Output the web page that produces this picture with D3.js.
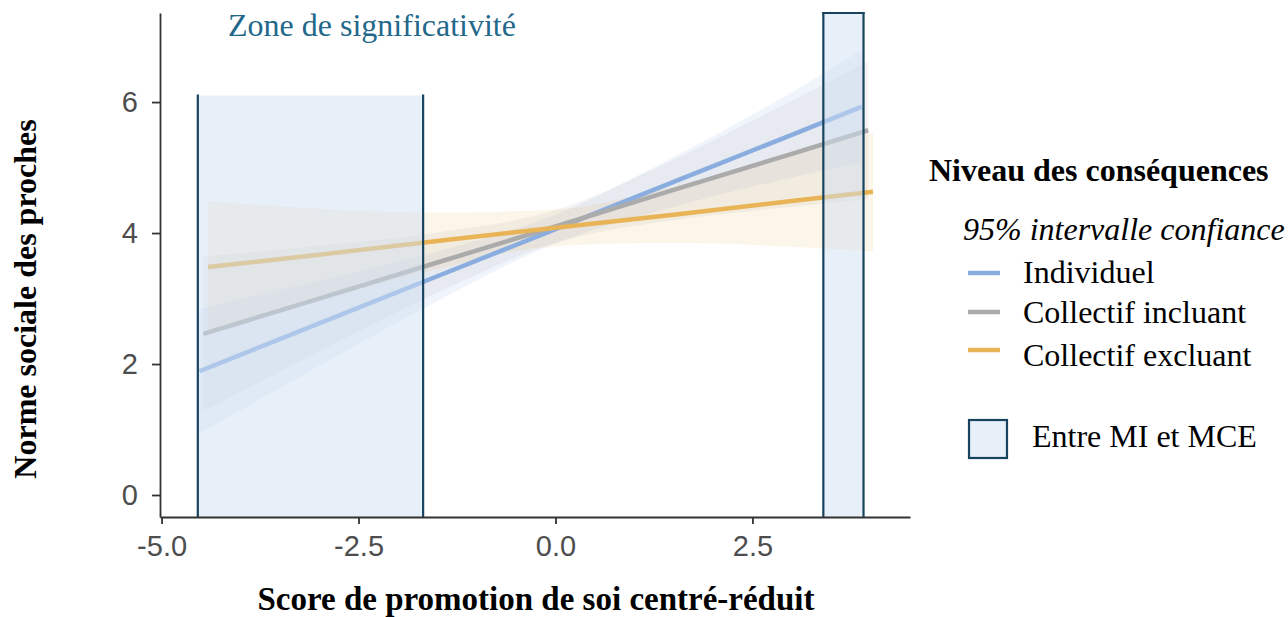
<!DOCTYPE html>
<html>
<head>
<meta charset="utf-8">
<script src="https://cdn.jsdelivr.net/npm/d3@7"></script>
<style>
  html, body { margin: 0; padding: 0; background: #fff; }
  svg { display: block; }
</style>
</head>
<body>
<svg id="chart" width="1288" height="617"></svg>
<script>
// ---------- data ----------
const seriesNames = ["Individuel", "Collectif incluant", "Collectif excluant"];
const seriesColors = ["#8aade0", "#ababab", "#e9b455"];

// fitted line + 95% CI: [x, estimate, lower, upper]
const individuel = [
  [-4.52, 1.89, 0.94, 2.84],
  [-3.0, 2.62, 1.97, 3.27],
  [-1.5, 3.34, 2.96, 3.72],
  [0.0, 4.06, 3.84, 4.28],
  [1.5, 4.78, 4.40, 5.16],
  [3.0, 5.50, 4.85, 6.15],
  [3.89, 5.93, 5.08, 6.80]
];
const collectifIncluant = [
  [-4.47, 2.46, 1.28, 3.64],
  [-3.0, 3.00, 2.19, 3.81],
  [-1.5, 3.55, 3.09, 4.01],
  [0.0, 4.10, 3.85, 4.35],
  [1.5, 4.66, 4.20, 5.12],
  [3.0, 5.21, 4.40, 6.02],
  [3.97, 5.57, 4.52, 6.62]
];
const collectifExcluant = [
  [-4.41, 3.48, 2.47, 4.49],
  [-3.0, 3.67, 2.97, 4.37],
  [-1.5, 3.88, 3.45, 4.31],
  [0.0, 4.08, 3.80, 4.36],
  [1.5, 4.28, 3.85, 4.71],
  [3.0, 4.49, 3.79, 5.19],
  [4.03, 4.63, 3.72, 5.54]
];

// significance zones: [xmin, xmax, ymax]
const zones = [
  [-4.54, -1.68, 6.1],
  [3.40, 3.91, 7.36]
];

const xTicks = [-5.0, -2.5, 0.0, 2.5];
const yTicks = [0, 2, 4, 6];

const xTitle = "Score de promotion de soi centré-réduit";
const yTitle = "Norme sociale des proches";
const zoneLabel = "Zone de significativité";
const legendTitle = "Niveau des conséquences";
const legendSub = "95% intervalle confiance";
const zoneLegend = "Entre MI et MCE";

// ---------- layout ----------
const svg = d3.select("#chart");
const mLeft = 160, mRight = 910, mTop = 13, mBottom = 517;

const x = d3.scaleLinear().domain([-5.02, 4.5]).range([mLeft, mRight]);
const y = d3.scaleLinear().domain([-0.336, 7.36]).range([mBottom, mTop]);

const serif = "'Liberation Serif', 'Times New Roman', serif";
const sans = "'Liberation Sans', Arial, sans-serif";

const allSeries = [individuel, collectifIncluant, collectifExcluant];

// ribbons
const area = d3.area()
  .x(d => x(d[0])).y0(d => y(d[2])).y1(d => y(d[3]))
  .curve(d3.curveMonotoneX);
const g = svg.append("g");
allSeries.forEach((s, i) => {
  g.append("path").datum(s)
    .attr("d", area)
    .attr("fill", seriesColors[i])
    .attr("fill-opacity", 0.13);
});

// lines
const line = d3.line().x(d => x(d[0])).y(d => y(d[1]));
allSeries.forEach((s, i) => {
  g.append("path").datum(s)
    .attr("d", line)
    .attr("fill", "none")
    .attr("stroke", seriesColors[i])
    .attr("stroke-width", 4.5);
});

// zones: translucent fill, then outline edges
const yMinDom = y.domain()[0], yMaxDom = y.domain()[1];
zones.forEach(z => {
  const x0 = x(z[0]), x1 = x(z[1]), yt = y(z[2]), yb = y(yMinDom);
  g.append("rect")
    .attr("x", x0).attr("y", yt)
    .attr("width", x1 - x0).attr("height", yb - yt)
    .attr("fill", "#cfdff2")
    .attr("fill-opacity", 0.5);
  const edges = [[x0, yt, x0, yb], [x1, yt, x1, yb]];
  if (z[2] >= yMaxDom - 0.01) edges.push([x0, yt, x1, yt]);
  edges.forEach(e => {
    g.append("line")
      .attr("x1", e[0]).attr("y1", e[1]).attr("x2", e[2]).attr("y2", e[3])
      .attr("stroke", "#17435f").attr("stroke-width", 2.2)
      .attr("stroke-linecap", "square");
  });
});

// zone label
svg.append("text")
  .attr("x", 372).attr("y", 36)
  .attr("text-anchor", "middle")
  .attr("font-family", serif).attr("font-size", 32)
  .attr("fill", "#22688a")
  .text(zoneLabel);

// axes
const xAxis = svg.append("g")
  .attr("transform", `translate(0,${mBottom})`)
  .call(d3.axisBottom(x).tickValues(xTicks).tickFormat(d3.format(".1f")).tickSize(7).tickSizeOuter(0).tickPadding(4));
const yAxis = svg.append("g")
  .attr("transform", `translate(${mLeft},0)`)
  .call(d3.axisLeft(y).tickValues(yTicks).tickFormat(d3.format("d")).tickSize(8).tickSizeOuter(0).tickPadding(14));

[xAxis, yAxis].forEach(a => {
  a.select(".domain").attr("stroke", "#333").attr("stroke-width", 1.8);
  a.selectAll(".tick line").attr("stroke", "#333").attr("stroke-width", 1.8);
  a.selectAll(".tick text")
    .attr("font-family", sans).attr("font-size", 29).attr("fill", "#4d4d4d");
});
xAxis.selectAll(".tick text").attr("dy", "0.95em");
xAxis.selectAll(".tick text").text(d => d3.format(".1f")(d).replace("−", "-"));

// axis titles
svg.append("text")
  .attr("x", 536).attr("y", 610)
  .attr("text-anchor", "middle")
  .attr("font-family", serif).attr("font-size", 33).attr("font-weight", "bold")
  .attr("fill", "#000")
  .text(xTitle);
svg.append("text")
  .attr("transform", "translate(36,299) rotate(-90)")
  .attr("text-anchor", "middle")
  .attr("font-family", serif).attr("font-size", 32).attr("font-weight", "bold")
  .attr("fill", "#000")
  .text(yTitle);

// legend
const lg = svg.append("g");
lg.append("text")
  .attr("x", 929).attr("y", 181)
  .attr("font-family", serif).attr("font-size", 32).attr("font-weight", "bold")
  .text(legendTitle);
lg.append("text")
  .attr("x", 963).attr("y", 240)
  .attr("font-family", serif).attr("font-size", 32).attr("font-style", "italic")
  .text(legendSub);
const keyY = [273, 312, 350];
const labY = [283, 323, 366];
seriesNames.forEach((name, i) => {
  lg.append("line")
    .attr("x1", 968).attr("x2", 1000)
    .attr("y1", keyY[i]).attr("y2", keyY[i])
    .attr("stroke", seriesColors[i]).attr("stroke-width", 4.5);
  lg.append("text")
    .attr("x", 1023).attr("y", labY[i])
    .attr("font-family", serif).attr("font-size", 32)
    .text(name);
});
lg.append("rect")
  .attr("x", 969).attr("y", 420).attr("width", 38).attr("height", 38)
  .attr("fill", "#e7eff9")
  .attr("stroke", "#17435f").attr("stroke-width", 2.2);
lg.append("text")
  .attr("x", 1032).attr("y", 447)
  .attr("font-family", serif).attr("font-size", 32)
  .text(zoneLegend);
</script>
</body>
</html>
